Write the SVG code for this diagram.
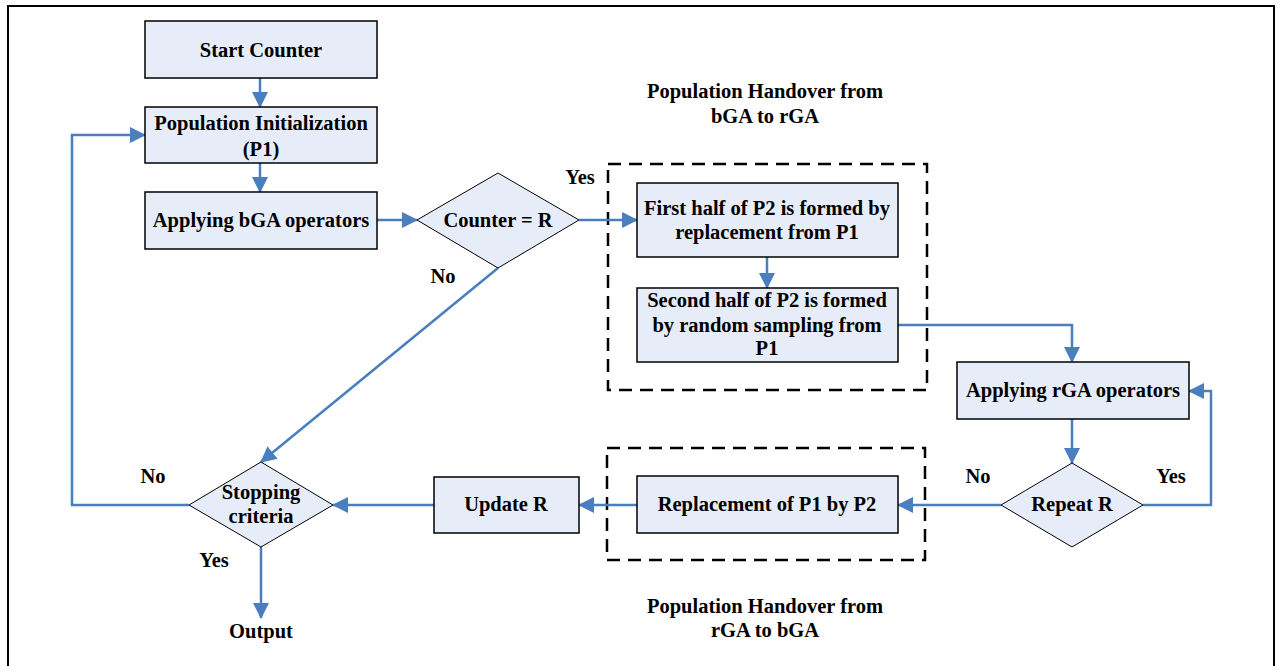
<svg xmlns="http://www.w3.org/2000/svg" width="1279" height="666" viewBox="0 0 1279 666">
<style>
.box{fill:#e6edf8;stroke:#000;stroke-width:1.5}
.dia{fill:#e6edf8;stroke:#000;stroke-width:1}
.t{font-family:"Liberation Serif","Times New Roman",serif;font-weight:bold;font-size:20.5px;fill:#000;text-anchor:middle}
.c{fill:none;stroke:#4a7ebf;stroke-width:2.5}
.dash{fill:none;stroke:#000;stroke-width:2.5;stroke-dasharray:13 8}
</style>
<defs>
<marker id="ah" markerUnits="userSpaceOnUse" markerWidth="16" markerHeight="16" refX="15" refY="8" orient="auto">
<path d="M0,0 L16,8 L0,16 Z" fill="#4a7ebf"/>
</marker>
</defs>
<rect x="8" y="6" width="1266" height="670" fill="#fff" stroke="#000" stroke-width="2"/>
<g id="groups">
<rect class="dash" x="608" y="164" width="319" height="226"/>
<rect class="dash" x="607" y="448" width="318" height="112"/>
<text class="t" x="765" y="98">Population Handover from</text>
<text class="t" x="765" y="123">bGA to rGA</text>
<text class="t" x="765" y="613">Population Handover from</text>
<text class="t" x="765" y="637">rGA to bGA</text>
</g>
<g id="connectors">
<line class="c" x1="260" y1="78" x2="260" y2="107" marker-end="url(#ah)"/>
<line class="c" x1="260" y1="163" x2="260" y2="192" marker-end="url(#ah)"/>
<line class="c" x1="377" y1="220" x2="417" y2="220" marker-end="url(#ah)"/>
<line class="c" x1="579" y1="220" x2="637" y2="220" marker-end="url(#ah)"/>
<line class="c" x1="767" y1="257" x2="767" y2="288" marker-end="url(#ah)"/>
<polyline class="c" points="898,325 1072,325 1072,362" marker-end="url(#ah)"/>
<line class="c" x1="1072" y1="419" x2="1072" y2="463" marker-end="url(#ah)"/>
<polyline class="c" points="1143,505 1211,505 1211,391 1189,391" marker-end="url(#ah)"/>
<line class="c" x1="1001" y1="505" x2="898" y2="505" marker-end="url(#ah)"/>
<line class="c" x1="637" y1="505" x2="579" y2="505" marker-end="url(#ah)"/>
<line class="c" x1="434" y1="505" x2="333" y2="505" marker-end="url(#ah)"/>
<line class="c" x1="498" y1="268" x2="261" y2="462" marker-end="url(#ah)"/>
<polyline class="c" points="189,505 72,505 72,135 145,135" marker-end="url(#ah)"/>
<line class="c" x1="261" y1="547" x2="261" y2="618" marker-end="url(#ah)"/>
<text class="t" x="580" y="184">Yes</text>
<text class="t" x="443" y="283">No</text>
<text class="t" x="978" y="483">No</text>
<text class="t" x="1171" y="483">Yes</text>
<text class="t" x="153" y="483">No</text>
<text class="t" x="214" y="567">Yes</text>
</g>
<g id="start"><rect class="box" x="145" y="21" width="232" height="57"/><text class="t" x="261" y="57">Start Counter</text></g>
<g id="init"><rect class="box" x="145" y="107" width="232" height="56"/><text class="t" x="261" y="130">Population Initialization</text><text class="t" x="261" y="156">(P1)</text></g>
<g id="bga"><rect class="box" x="145" y="192" width="232" height="57"/><text class="t" x="261" y="227">Applying bGA operators</text></g>
<g id="counter"><polygon class="dia" points="417,220 498,173 579,220 498,268"/><text class="t" x="498" y="227">Counter = R</text></g>
<g id="first"><rect class="box" x="637" y="183" width="261" height="74"/><text class="t" x="767" y="215">First half of P2 is formed by</text><text class="t" x="767" y="239">replacement from P1</text></g>
<g id="second"><rect class="box" x="637" y="288" width="261" height="74"/><text class="t" x="767" y="307">Second half of P2 is formed</text><text class="t" x="767" y="332">by random sampling  from</text><text class="t" x="767" y="355">P1</text></g>
<g id="rga"><rect class="box" x="957" y="362" width="232" height="57"/><text class="t" x="1073" y="397">Applying rGA operators</text></g>
<g id="repeat"><polygon class="dia" points="1001,505 1072,463 1143,505 1072,547"/><text class="t" x="1072" y="511">Repeat R</text></g>
<g id="replace"><rect class="box" x="637" y="476" width="261" height="57"/><text class="t" x="767" y="511">Replacement of P1 by P2</text></g>
<g id="update"><rect class="box" x="434" y="477" width="145" height="56"/><text class="t" x="506" y="511">Update R</text></g>
<g id="stop"><polygon class="dia" points="189,505 261,462 333,505 261,547"/><text class="t" x="261" y="499">Stopping</text><text class="t" x="261" y="523">criteria</text></g>
<g id="output"><text class="t" x="261" y="638">Output</text></g>
</svg>
